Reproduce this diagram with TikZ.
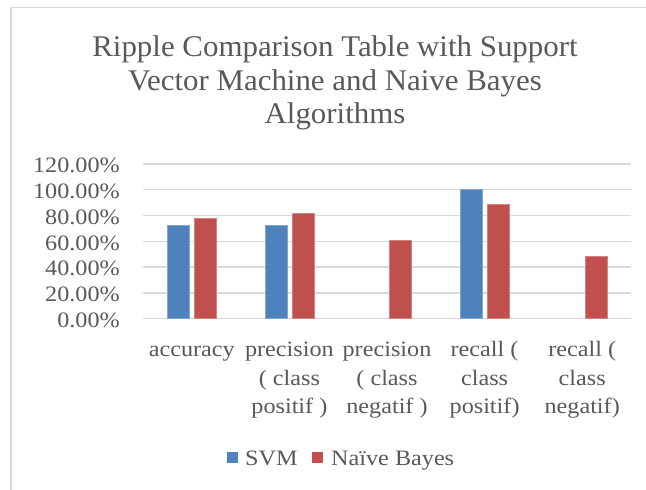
\documentclass[tikz,border=0pt]{standalone}
\usepackage{fontspec}
\setmainfont{Liberation Serif}
\newfontfamily\lblfont[FakeStretch=1.1]{Liberation Serif}
\newfontfamily\ttlfont[FakeStretch=1.03]{Liberation Serif}
\definecolor{txt}{HTML}{595959}
\definecolor{gridc}{HTML}{D9D9D9}
\definecolor{svmc}{HTML}{4F81BD}
\definecolor{nbc}{HTML}{C0504D}
\begin{document}
\begin{tikzpicture}[x=1pt,y=-1pt,
  lbl/.style={text=txt,inner sep=0pt,font=\lblfont\fontsize{22}{28}\selectfont},
  ttl/.style={text=txt,inner sep=0pt,font=\ttlfont\fontsize{30}{34}\selectfont},
  gridline/.style={draw=gridc,line width=1.5pt},
  svmbar/.style={fill=svmc,draw=svmc!70!white,line width=0.6pt},
  nbbar/.style={fill=nbc,draw=nbc!70!white,line width=0.6pt}]
\useasboundingbox (0,0) rectangle (646,490);
\fill[white] (0,0) rectangle (646,490);
\draw[gridline] (11,490) -- (11,7.3) -- (646,7.3);
% title
\node[ttl,anchor=base] (t1) at (335,56.7) {Ripple Comparison Table with Support};
\node[ttl,anchor=base] (t2) at (335,90.2) {Vector Machine and Naive Bayes};
\node[ttl,anchor=base] (t3) at (335,123.7) {Algorithms};
% grid and y labels
\foreach \v [count=\i] in {0,20,40,60,80,100,120}{
  \draw[gridline] (143,318.7-1.29*\v) -- (631,318.7-1.29*\v);
  \node[lbl,anchor=base east] (y\i) at (120,318.7-1.29*\v+8.7) {\v.00\%};
}
% bars
\foreach \c/\s/\n in {191.8/72.4/77.8, 289.4/72.4/81.9, 387.0/0/61.0, 484.6/100/88.9, 582.2/0/48.0}{
  \ifdim \s pt>0pt
    \filldraw[svmbar] (\c-24.6,318.7) rectangle (\c-2.6,318.7-1.29*\s);
  \fi
  \filldraw[nbbar] (\c+2.6,318.7) rectangle (\c+24.6,318.7-1.29*\n);
}
% category labels
\node[lbl,anchor=base] (a1) at (191.8,356.7) {accuracy};
\node[lbl,anchor=base] (b1) at (289.4,356.7) {precision};
\node[lbl,anchor=base] (b2) at (289.4,385.0) {( class};
\node[lbl,anchor=base] (b3) at (289.4,413.3) {positif )};
\node[lbl,anchor=base] (c1) at (387.0,356.7) {precision};
\node[lbl,anchor=base] (c2) at (387.0,385.0) {( class};
\node[lbl,anchor=base] (c3) at (387.0,413.3) {negatif )};
\node[lbl,anchor=base] (d1) at (484.6,356.7) {recall (};
\node[lbl,anchor=base] (d2) at (484.6,385.0) {class};
\node[lbl,anchor=base] (d3) at (484.6,413.3) {positif)};
\node[lbl,anchor=base] (e1) at (582.2,356.7) {recall (};
\node[lbl,anchor=base] (e2) at (582.2,385.0) {class};
\node[lbl,anchor=base] (e3) at (582.2,413.3) {negatif)};
% legend
\fill[svmc] (227,452) rectangle (238,463);
\node[lbl,anchor=base west] (ls) at (245,465) {SVM};
\fill[nbc] (312,452) rectangle (323,463);
\node[lbl,anchor=base west] (ln) at (331,465) {Naïve Bayes};
\end{tikzpicture}
\end{document}
